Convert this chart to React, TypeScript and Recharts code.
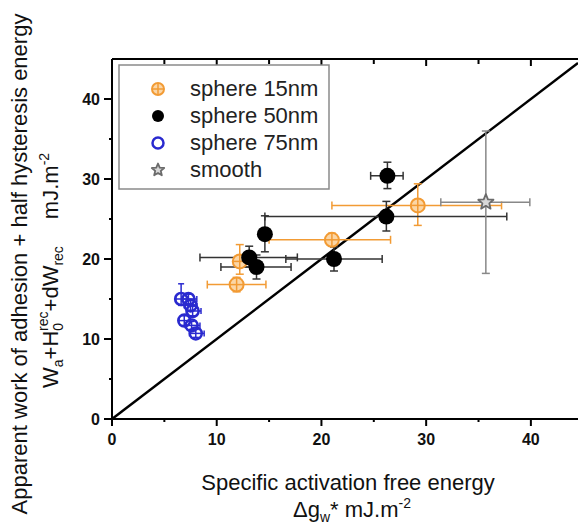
import {
  ScatterChart,
  Scatter,
  XAxis,
  YAxis,
  ErrorBar,
  ReferenceLine,
  Legend,
} from "recharts";

const FONT = "'Liberation Sans', Arial, sans-serif";

// tick values (majors get labels, the others are minor ticks)
const X_TICKS = [0, 5, 10, 15, 20, 25, 30, 35, 40];
const Y_TICKS = [0, 5, 10, 15, 20, 25, 30, 35, 40];

// ex / ey = [minus, plus] error deltas
const sphere15 = [
  { x: 11.9, y: 16.8, ex: [2.8, 2.8], ey: [0.9, 0.9] },
  { x: 12.2, y: 19.7, ex: [0.5, 0.5], ey: [1.6, 2.1] },
  { x: 21.0, y: 22.4, ex: [6.0, 5.6], ey: [0.8, 0.8] },
  { x: 29.2, y: 26.7, ex: [8.2, 8.0], ey: [2.5, 2.7] },
];

const sphere50 = [
  { x: 13.1, y: 20.2, ex: [4.7, 4.6], ey: [1.2, 1.4] },
  { x: 13.8, y: 19.0, ex: [3.4, 3.3], ey: [1.5, 1.5] },
  { x: 14.6, y: 23.1, ex: [0.4, 0.4], ey: [2.2, 2.3] },
  { x: 21.2, y: 20.0, ex: [4.6, 4.6], ey: [1.5, 1.5] },
  { x: 26.2, y: 25.3, ex: [11.6, 11.5], ey: [1.8, 1.9] },
  { x: 26.3, y: 30.4, ex: [1.6, 1.5], ey: [1.6, 1.7] },
];

const sphere75 = [
  { x: 6.6, y: 15.0, ex: [0.5, 0.6], ey: [0.8, 1.9] },
  { x: 7.3, y: 15.0, ex: [0.6, 0.8], ey: [0.6, 0.6] },
  { x: 7.5, y: 14.2, ex: [0.6, 0.6], ey: [0.6, 0.6] },
  { x: 7.7, y: 13.5, ex: [0.6, 0.8], ey: [0.6, 0.6] },
  { x: 6.9, y: 12.3, ex: [0.5, 0.5], ey: [0.6, 0.6] },
  { x: 7.6, y: 11.7, ex: [0.6, 0.8], ey: [0.5, 0.5] },
  { x: 8.0, y: 10.7, ex: [0.6, 0.8], ey: [0.5, 0.5] },
];

const smooth = [{ x: 35.7, y: 27.1, ex: [4.3, 4.2], ey: [8.9, 8.9] }];

// y = x reference
const diagonal = [
  { x: 0, y: 0 },
  { x: 44.5, y: 44.5 },
];

const ORANGE = "#F29B34";
const ORANGE_FILL = "#FBD6A6";
const BLUE = "#2A2ACF";
const GREY = "#6b6b6b";

function starPoints(cx: number, cy: number, R: number, r: number) {
  const pts: string[] = [];
  for (let i = 0; i < 10; i++) {
    const rad = i % 2 === 0 ? R : r;
    const a = -Math.PI / 2 + (i * Math.PI) / 5;
    pts.push(`${cx + rad * Math.cos(a)},${cy + rad * Math.sin(a)}`);
  }
  return pts.join(" ");
}

const OrangeDot = ({ cx, cy, r = 7 }: any) => (
  <g>
    <circle cx={cx} cy={cy} r={r} fill={ORANGE_FILL} stroke={ORANGE} strokeWidth={2} />
    <line x1={cx - r} y1={cy} x2={cx + r} y2={cy} stroke={ORANGE} strokeWidth={1.5} />
    <line x1={cx} y1={cy - r} x2={cx} y2={cy + r} stroke={ORANGE} strokeWidth={1.5} />
  </g>
);

const BlackDot = ({ cx, cy, r = 8 }: any) => <circle cx={cx} cy={cy} r={r} fill="#000" />;

const BlueDot = ({ cx, cy, r = 6 }: any) => (
  <circle cx={cx} cy={cy} r={r} fill="none" stroke={BLUE} strokeWidth={2.5} />
);

const StarDot = ({ cx, cy, r = 8 }: any) => (
  <polygon
    points={starPoints(cx, cy, r, r * 0.45)}
    fill="#d8d8d8"
    stroke={GREY}
    strokeWidth={1.8}
    strokeLinejoin="round"
  />
);

const BottomTick = ({ x, y, payload }: any) => {
  const major = payload.value % 10 === 0;
  return (
    <g>
      <line x1={x} y1={y} x2={x} y2={y + (major ? 7 : 3)} stroke="#000" strokeWidth={2} />
      {major && (
        <text x={x} y={y + 26} textAnchor="middle" fontSize={16} fontWeight="bold" fill="#111" fontFamily={FONT}>
          {payload.value}
        </text>
      )}
    </g>
  );
};

const TopTick = ({ x, y, payload }: any) => {
  const major = payload.value % 10 === 0;
  return <line x1={x} y1={y} x2={x} y2={y + (major ? 7 : 5)} stroke="#000" strokeWidth={2} />;
};

const LeftTick = ({ x, y, payload }: any) => {
  const major = payload.value % 10 === 0;
  return (
    <g>
      <line x1={x - (major ? 8 : 3)} y1={y} x2={x} y2={y} stroke="#000" strokeWidth={2} />
      {major && (
        <text x={x - 12} y={y + 6} textAnchor="end" fontSize={16} fontWeight="bold" fill="#111" fontFamily={FONT}>
          {payload.value}
        </text>
      )}
    </g>
  );
};

const XTitle = () => (
  <g fontFamily={FONT} fill="#111">
    <text x={348} y={490} textAnchor="middle" fontSize={22}>
      Specific activation free energy
    </text>
    <text x={293} y={517} fontSize={22}>
      Δg
      <tspan fontSize={14} dy={5}>w</tspan>
      <tspan fontSize={22} dy={-5}>* mJ.m</tspan>
      <tspan fontSize={14} dy={-9}>-2</tspan>
    </text>
  </g>
);

const YTitle = () => (
  <g fontFamily={FONT} fill="#111">
    <text transform="translate(27,264) rotate(-90)" textAnchor="middle" fontSize={22}>
      Apparent work of adhesion + half hysteresis energy
    </text>
    <text transform="translate(58,388) rotate(-90)" fontSize={22}>
      W
      <tspan fontSize={14} dy={5}>a</tspan>
      <tspan fontSize={22} dy={-5}>+H</tspan>
      <tspan fontSize={14} dy={5}>0</tspan>
      <tspan fontSize={14} dx={-8} dy={-15}>rec</tspan>
      <tspan fontSize={22} dy={10}>+dW</tspan>
      <tspan fontSize={14} dy={5}>rec</tspan>
      <tspan fontSize={22} dx={27} dy={-5}>mJ.m</tspan>
      <tspan fontSize={14} dy={-9}>-2</tspan>
    </text>
  </g>
);

const legendRows = [
  { label: "sphere 15nm", Mark: OrangeDot, r: 6 },
  { label: "sphere 50nm", Mark: BlackDot, r: 6 },
  { label: "sphere 75nm", Mark: BlueDot, r: 5.5 },
  { label: "smooth", Mark: StarDot, r: 6.5 },
];

const LegendBox = () => (
  <svg width={212} height={126} style={{ display: "block" }}>
    <rect x={1} y={1} width={210} height={124} fill="#fff" stroke="#8a8a8a" strokeWidth={1.5} />
    {legendRows.map((row, i) => {
      const cy = 25 + i * 27;
      const M = row.Mark;
      return (
        <g key={row.label}>
          <M cx={40} cy={cy} r={row.r} />
          <text x={72} y={cy + 7} fontSize={22} fontFamily={FONT} fill="#222">
            {row.label}
          </text>
        </g>
      );
    })}
  </svg>
);

export default function App() {
  return (
    <div
      style={{
        position: "absolute",
        left: 0,
        top: 0,
        width: 578,
        height: 527,
        overflow: "hidden",
        background: "#fff",
      }}
    >
      <ScatterChart width={578} height={527} margin={{ top: 58, right: 0, bottom: 78, left: 72 }}>
        <XAxis
          type="number"
          dataKey="x"
          domain={[0, 44.5]}
          ticks={X_TICKS}
          allowDataOverflow
          height={30}
          tickSize={0}
          tickMargin={0}
          tickLine={false}
          tick={<BottomTick />}
          axisLine={{ stroke: "#000", strokeWidth: 2 }}
          label={<XTitle />}
        />
        <XAxis
          xAxisId="top"
          orientation="top"
          type="number"
          dataKey="x"
          domain={[0, 44.5]}
          ticks={X_TICKS}
          allowDataOverflow
          height={1}
          tickSize={0}
          tickMargin={0}
          tickLine={false}
          tick={<TopTick />}
          axisLine={{ stroke: "#000", strokeWidth: 2 }}
        />
        <YAxis
          type="number"
          dataKey="y"
          domain={[0, 45]}
          ticks={Y_TICKS}
          allowDataOverflow
          width={40}
          tickSize={0}
          tickMargin={0}
          tickLine={false}
          tick={<LeftTick />}
          axisLine={{ stroke: "#000", strokeWidth: 2 }}
          label={<YTitle />}
        />
        <Legend
          layout="horizontal"
          verticalAlign="middle"
          align="center"
          content={<LegendBox />}
          wrapperStyle={{ left: 118, top: 64, width: 212, height: 126 }}
        />
        <ReferenceLine segment={diagonal} stroke="#000" strokeWidth={2.5} ifOverflow="visible" />
        <Scatter name="sphere 15nm" data={sphere15} shape={<OrangeDot />} isAnimationActive={false}>
          <ErrorBar dataKey="ex" direction="x" stroke={ORANGE} strokeWidth={1.5} width={4} />
          <ErrorBar dataKey="ey" direction="y" stroke={ORANGE} strokeWidth={1.5} width={4} />
        </Scatter>
        <Scatter name="sphere 50nm" data={sphere50} shape={<BlackDot />} isAnimationActive={false}>
          <ErrorBar dataKey="ex" direction="x" stroke="#333" strokeWidth={1.5} width={4} />
          <ErrorBar dataKey="ey" direction="y" stroke="#333" strokeWidth={1.5} width={4} />
        </Scatter>
        <Scatter name="sphere 75nm" data={sphere75} shape={<BlueDot />} isAnimationActive={false}>
          <ErrorBar dataKey="ex" direction="x" stroke={BLUE} strokeWidth={1.5} width={3} />
          <ErrorBar dataKey="ey" direction="y" stroke={BLUE} strokeWidth={1.5} width={3} />
        </Scatter>
        <Scatter name="smooth" data={smooth} shape={<StarDot />} isAnimationActive={false}>
          <ErrorBar dataKey="ex" direction="x" stroke="#888" strokeWidth={1.5} width={4} />
          <ErrorBar dataKey="ey" direction="y" stroke="#888" strokeWidth={1.5} width={4} />
        </Scatter>
      </ScatterChart>
    </div>
  );
}
